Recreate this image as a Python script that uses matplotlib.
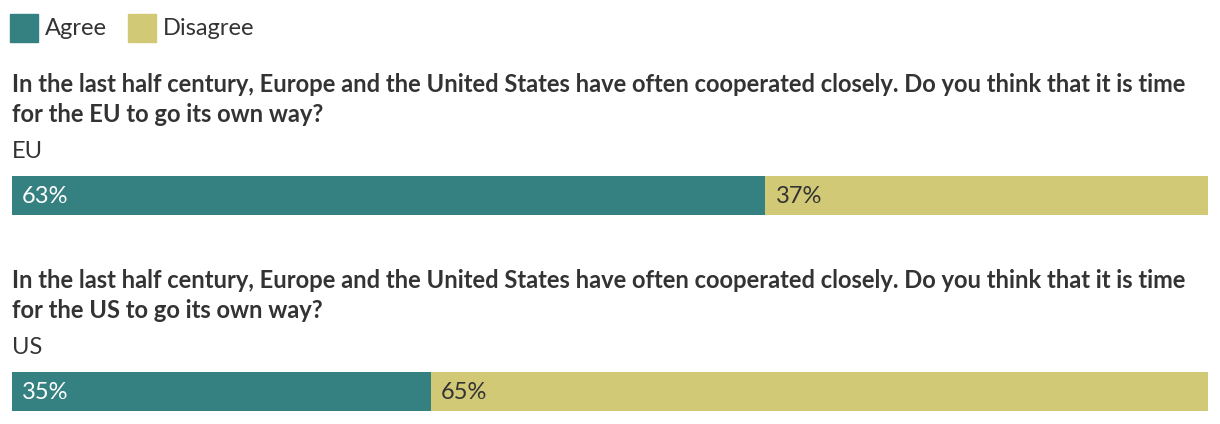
import matplotlib
matplotlib.use("Agg")
import matplotlib.pyplot as plt
from matplotlib.patches import Rectangle

plt.rcParams['font.family'] = ['Lato', 'DejaVu Sans']

series = ["Agree", "Disagree"]
colors = ["#358080", "#d2c976"]
questions = [
    ["In the last half century, Europe and the United States have often cooperated closely. Do you think that it is time",
     "for the EU to go its own way?"],
    ["In the last half century, Europe and the United States have often cooperated closely. Do you think that it is time",
     "for the US to go its own way?"],
]
groups = ["EU", "US"]
agree = [63, 35]
disagree = [37, 65]

W, H = 1220, 424
fig = plt.figure(figsize=(W / 100, H / 100), dpi=100)

# overlay axes in pixel coordinates for the text
ov = fig.add_axes([0, 0, 1, 1])
ov.set_xlim(0, W)
ov.set_ylim(H, 0)
ov.axis("off")

txt = "#333333"

# legend
lx = 10
for name, c in zip(series, colors):
    ov.add_patch(Rectangle((lx, 14), 28, 28, color=c))
    t = ov.text(lx + 35, 35, name, fontsize=17, color=txt, va="baseline")
    fig.canvas.draw()
    bb = t.get_window_extent()
    lx = bb.x1 + 21

block = 196  # vertical distance between the two question blocks
for i, q in enumerate(questions):
    y0 = i * block
    for j, line in enumerate(q):
        ov.text(12, 92 + 30 * j + y0, line, fontsize=17.1, fontweight="bold",
                color=txt, va="baseline")
    ov.text(12, 158 + y0, groups[i], fontsize=17, color=txt, va="baseline")

    # bar axes
    top = 176 + y0
    ax = fig.add_axes([12 / W, 1 - (top + 39) / H, 1196 / W, 39 / H])
    vals = [agree[i], disagree[i]]
    left = 0
    for v, c, tc in zip(vals, colors, ["white", txt]):
        ax.barh(0, v, left=left, height=1, color=c, linewidth=0)
        ax.text(left + 0.85, -0.02, f"{v}%", fontsize=17, color=tc, va="center", ha="left")
        left += v
    ax.set_xlim(0, 100)
    ax.set_ylim(-0.5, 0.5)
    ax.axis("off")

fig.savefig("out.png", dpi=100)
